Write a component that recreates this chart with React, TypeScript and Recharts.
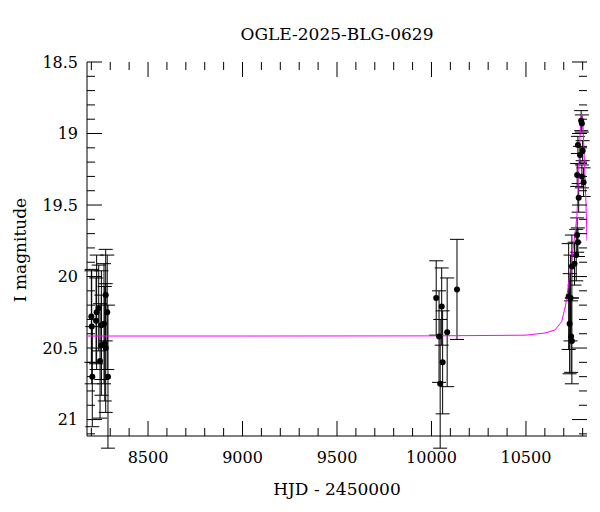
import { ScatterChart, Scatter, XAxis, YAxis, ErrorBar } from "recharts";

// OGLE photometry (HJD - 2450000, I mag, error)
const obsHjd = [
  8200, 8202, 8205, 8225, 8228, 8239, 8246, 8253, 8253, 8267, 8271, 8276, 8276, 8284, 8288,
  10025, 10040, 10046, 10054, 10059, 10083, 10135,
  10726, 10731, 10736, 10739, 10743, 10743, 10757, 10766, 10771, 10775, 10771, 10775, 10779,
  10786, 10792, 10796, 10796, 10800, 10805,
];
const obsMag = [
  20.28, 20.35, 20.7, 20.31, 20.25, 20.22, 20.59, 20.34, 20.48, 20.33, 20.47, 20.13, 20.5, 20.25, 20.7,
  20.15, 20.42, 20.75, 20.21, 20.6, 20.39, 20.09,
  20.14, 20.33, 20.15, 20.42, 20.45, 19.93, 19.91, 19.85, 19.71, 19.76, 19.29, 19.08, 19.45,
  19.15, 18.91, 18.93, 19.3, 19.12, 19.34,
];
const obsErr = [
  0.32, 0.4, 0.35, 0.3, 0.4, 0.3, 0.4, 0.38, 0.35, 0.42, 0.4, 0.32, 0.45, 0.4, 0.5,
  0.26, 0.32, 0.45, 0.27, 0.36, 0.38, 0.35,
  0.37, 0.35, 0.3, 0.25, 0.3, 0.22, 0.15, 0.18, 0.12, 0.1, 0.08, 0.06, 0.1,
  0.06, 0.07, 0.06, 0.08, 0.07, 0.1,
];

// microlensing model curve
const modelHjd = [
  8177, 9000, 10000, 10500, 10600, 10653, 10689, 10710, 10727, 10745, 10763, 10770, 10779,
  10786, 10790, 10794, 10798, 10802, 10810, 10818, 10823,
];
const modelMag = [
  20.416, 20.416, 20.415, 20.41, 20.395, 20.374, 20.316, 20.199, 20.036, 19.85, 19.66, 19.57, 19.26,
  19.02, 18.9, 18.865, 18.88, 18.95, 19.22, 19.5, 19.75,
];

const xTicks = [
  8200, 8300, 8400, 8500, 8600, 8700, 8800, 8900, 9000, 9100, 9200, 9300, 9400, 9500,
  9600, 9700, 9800, 9900, 10000, 10100, 10200, 10300, 10400, 10500, 10600, 10700, 10800,
];
const xLabels = [8500, 9000, 9500, 10000, 10500];
const yTicks = [
  18.5, 18.6, 18.7, 18.8, 18.9, 19, 19.1, 19.2, 19.3, 19.4, 19.5, 19.6, 19.7, 19.8,
  19.9, 20, 20.1, 20.2, 20.3, 20.4, 20.5, 20.6, 20.7, 20.8, 20.9, 21, 21.1,
];
const yLabels = [18.5, 19, 19.5, 20, 20.5, 21];

const obs = obsHjd.map((x, i) => ({ x, y: obsMag[i], err: obsErr[i] }));
const model = modelHjd.map((x, i) => ({ x, y: modelMag[i] }));

const LEFT = 87;
const RIGHT = 587;
const TOP = 62;
const BOTTOM = 436;
const FONT = "'DejaVu Serif', serif";

function XTick(props: any) {
  const { x, payload } = props;
  const major = xLabels.includes(payload.value);
  const len = major ? 15 : 8;
  return (
    <g>
      <line x1={x} x2={x} y1={BOTTOM} y2={BOTTOM - len} stroke="#000" />
      <line x1={x} x2={x} y1={TOP} y2={TOP + len} stroke="#000" />
      {major && (
        <text x={x} y={BOTTOM + 21} textAnchor="middle" dominantBaseline="central"
          style={{ fontFamily: FONT, fontSize: 16, fill: "#000" }}>
          {payload.value}
        </text>
      )}
    </g>
  );
}

function YTick(props: any) {
  const { y, payload } = props;
  const major = yLabels.includes(payload.value);
  const len = major ? 15 : 8;
  return (
    <g>
      <line x1={LEFT} x2={LEFT + len} y1={y} y2={y} stroke="#000" />
      <line x1={RIGHT} x2={RIGHT - len} y1={y} y2={y} stroke="#000" />
      {major && (
        <text x={LEFT - 9} y={y} textAnchor="end" dominantBaseline="central"
          style={{ fontFamily: FONT, fontSize: 16, fill: "#000" }}>
          {payload.value}
        </text>
      )}
    </g>
  );
}

export default function App() {
  return (
    <div style={{ position: "absolute", left: 0, top: 0, width: 600, height: 512, background: "#fff" }}>
      <div style={{ position: "absolute", left: LEFT, top: 24, width: RIGHT - LEFT, textAlign: "center",
        fontFamily: FONT, fontSize: 17, lineHeight: "20px", color: "#000" }}>
        OGLE-2025-BLG-0629
      </div>
      <ScatterChart width={600} height={512} margin={{ top: TOP, right: 600 - RIGHT, bottom: 0, left: 0 }}>
        <XAxis dataKey="x" type="number" domain={[8177, 10823]} allowDataOverflow ticks={xTicks}
          interval={0} height={76} tickLine={false} tickSize={0} axisLine={{ stroke: "#000" }}
          tick={<XTick />}
          label={{
            content: () => (
              <text x={(LEFT + RIGHT) / 2} y={489} textAnchor="middle" dominantBaseline="central"
                style={{ fontFamily: FONT, fontSize: 17, fill: "#000" }}>
                HJD - 2450000
              </text>
            ),
          }}
        />
        <XAxis xAxisId="top" orientation="top" dataKey="x" type="number" domain={[8177, 10823]}
          height={0} tick={false} tickLine={false} axisLine={{ stroke: "#000" }} />
        <YAxis dataKey="y" type="number" domain={[18.5, 21.115]} reversed allowDataOverflow
          ticks={yTicks} interval={0} width={LEFT} tickLine={false} tickSize={0}
          axisLine={{ stroke: "#000" }} tick={<YTick />}
          label={{
            content: () => (
              <text x={20} y={250} textAnchor="middle" dominantBaseline="central"
                transform="rotate(-90 20 250)"
                style={{ fontFamily: FONT, fontSize: 17, fill: "#000" }}>
                I magnitude
              </text>
            ),
          }}
        />
        <YAxis yAxisId="right" orientation="right" dataKey="y" type="number" domain={[18.5, 21.115]}
          reversed width={0} tick={false} tickLine={false} axisLine={{ stroke: "#000" }} />
        <Scatter data={model} isAnimationActive={false} line={{ stroke: "#ff00ff", strokeWidth: 1 }}
          lineType="joint" shape={() => <g />} />
        <Scatter data={obs} isAnimationActive={false}
          shape={(p: any) => <circle cx={p.cx} cy={p.cy} r={3} fill="#000" />}>
          <ErrorBar dataKey="err" direction="y" width={7} stroke="#000" strokeWidth={1} />
        </Scatter>
      </ScatterChart>
    </div>
  );
}
